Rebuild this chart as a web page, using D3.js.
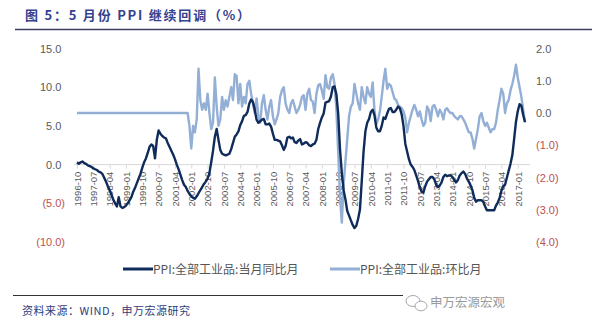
<!DOCTYPE html>
<html>
<head>
<meta charset="utf-8">
<script src="https://cdn.jsdelivr.net/npm/d3@7"></script>
<style>
  html, body { margin: 0; padding: 0; background: #fff; }
  svg { display: block; }
</style>
</head>
<body>
<svg id="chart" width="600" height="329"></svg>
<script>
// Category tick labels shown on the x axis (every 9 months)
const tickLabels = [
  "1996-10","1997-07","1998-04","1999-01","1999-10","2000-07","2001-04",
  "2002-01","2002-10","2003-07","2004-04","2005-01","2005-10","2006-07",
  "2007-04","2008-01","2008-10","2009-07","2010-04","2011-01","2011-10",
  "2012-07","2013-04","2014-01","2014-10","2015-07","2016-04","2017-01"
];

// PPI all industrial products, year-on-year (%), 1996-10 .. 2017-05
const yoy = [
  0.3, 0.1, 0.3,                                                        // 1996 Oct-Dec
  0.4, 0.2, 0.1, -0.1, -0.2, -0.3, -0.5, -0.6, -0.7, -0.9, -1.0, -1.2,  // 1997
  -1.7, -2.2, -2.8, -3.3, -3.9, -4.5, -5.0, -5.4, -4.2, -5.4, -5.6, -5.5, // 1998
  -5.3, -5.0, -4.6, -4.2, -3.5, -3.0, -2.4, -1.8, -1.2, -0.4, 0.3, 0.8,  // 1999
  1.5, 2.3, 2.6, 2.4, 0.8, 3.2, 4.4, 4.0, 3.7, 3.5, 3.4, 2.8,           // 2000
  2.3, 1.8, 1.3, 0.7, 0.0, -0.6, -1.3, -2.0, -2.6, -2.9, -3.4, -3.8,    // 2001
  -4.1, -4.3, -4.4, -4.1, -3.7, -3.3, -2.9, -2.5, -2.2, -1.8, -1.1, 0.3, // 2002
  1.8, 3.6, 4.6, 3.2, 1.9, 1.4, 1.3, 1.2, 1.3, 1.4, 2.0, 2.8,           // 2003
  3.6, 3.9, 4.3, 5.1, 5.6, 6.3, 6.4, 6.8, 7.9, 8.4, 8.1, 7.1,           // 2004
  5.8, 5.4, 5.6, 5.8, 5.9, 5.2, 5.2, 5.3, 4.9, 4.0, 3.2, 3.2,           // 2005
  3.1, 3.0, 2.5, 1.9, 2.4, 3.5, 3.6, 3.4, 3.5, 2.9, 2.8, 3.1,           // 2006
  3.3, 2.6, 2.7, 2.9, 2.8, 2.5, 2.4, 2.6, 2.7, 3.2, 4.6, 5.4,           // 2007
  6.1, 6.6, 8.0, 8.1, 8.2, 8.8, 10.0, 10.1, 9.1, 6.6, 2.0, -1.1,        // 2008
  -3.3, -4.5, -6.0, -6.6, -7.2, -7.8, -8.2, -7.9, -7.0, -5.8, -2.1, 1.7, // 2009
  4.3, 5.4, 5.9, 6.8, 7.1, 6.4, 4.8, 4.3, 4.3, 5.0, 6.1, 5.9,           // 2010
  6.6, 7.2, 7.3, 6.8, 6.8, 7.1, 7.5, 7.3, 6.5, 5.0, 2.7, 1.7,           // 2011
  0.7, 0.0, -0.3, -0.7, -1.4, -2.1, -2.9, -3.5, -3.6, -2.8, -2.2, -1.9, // 2012
  -1.6, -1.6, -1.9, -2.6, -2.9, -2.7, -2.3, -1.6, -1.3, -1.5, -1.4, -1.4, // 2013
  -1.6, -2.0, -2.3, -2.0, -1.4, -1.1, -0.9, -1.2, -1.8, -2.2, -2.7, -3.3, // 2014
  -4.3, -4.8, -4.6, -4.6, -4.6, -4.8, -5.4, -5.9, -5.9, -5.9, -5.9, -5.9, // 2015
  -5.3, -4.9, -4.3, -3.4, -2.8, -2.6, -1.7, -0.8, 0.1, 1.2, 3.3, 5.5,   // 2016
  6.9, 7.8, 7.6, 6.4, 5.5                                               // 2017 Jan-May
];

// PPI all industrial products, month-on-month (%), same months
const mom = [
  0, 0, 0,                                                              // 1996 Oct-Dec
  0, 0, 0, 0, 0, 0, 0, 0, 0, 0, 0, 0,                                   // 1997
  0, 0, 0, 0, 0, 0, 0, 0, 0, 0, 0, 0,                                   // 1998
  0, 0, 0, 0, 0, 0, 0, 0, 0, 0, 0, 0,                                   // 1999
  0, 0, 0, 0, 0, 0, 0, 0, 0, 0, 0, 0,                                   // 2000
  0, 0, 0, 0, 0, 0, 0, 0, 0, 0, 0, -0.4,                                // 2001
  -1.1, -0.4, -0.6, -0.2, 1.37, 0.4, 0.1, 0.3, 0.1, 0.6, 0.0, -0.5,     // 2002
  -0.3, 1.1, 0.2, -0.4, -0.2, 0.5, 0.1, 0.4, 0.2, 0.5, 0.8, 0.4,        // 2003
  1.2, 1.15, 0.3, 0.9, 0.2, 0.5, 0.3, 0.9, 1.0, 0.6, 0.3, 0.0,          // 2004
  0.45, -0.1, -0.3, 0.3, 0.55, 0.1, -0.2, 0.2, 0.4, -0.1, -0.35, -0.2,  // 2005
  0.0, 0.5, 0.7, 0.8, 0.3, 0.1, 0.0, 0.3, 0.4, 0.2, 0.0, 0.1,           // 2006
  0.25, 0.5, 0.55, 0.1, 0.6, 0.75, 0.4, 0.35, 0.0, 0.6, 0.86, 0.9,      // 2007
  0.7, 0.44, 1.17, 0.8, 0.75, 1.1, 1.2, 0.9, 0.1, -1.2, -2.6, -3.4,     // 2008
  -2.2, -1.5, -0.8, -0.1, 0.2, 0.3, 0.9, 0.6, 0.3, 0.1, 0.8, 0.5,       // 2009
  0.3, 0.8, 0.6, 0.5, 0.95, 0.1, -0.35, -0.2, 0.05, 0.5, 1.0, 1.37,     // 2010
  0.75, 0.9, 0.85, 0.65, 0.45, 0.4, 0.25, 0.2, 0.15, 0.05, -0.15, -0.6, // 2011
  -0.3, -0.1, 0.1, 0.25, 0.1, -0.1, 0.05, -0.2, -0.4, -0.3, 0.2, 0.1,   // 2012
  -0.25, 0.2, 0.25, 0.1, -0.1, 0.1, 0.0, -0.2, 0.1, 0.15, 0.05, 0.0,    // 2013
  0.0, -0.1, -0.15, -0.2, -0.1, -0.1, -0.2, -0.3, -0.45, -0.6, -0.6, -0.8, // 2014
  -1.1, -0.8, -0.5, -0.1, 0.0, -0.25, -0.4, -0.3, -0.45, -0.6, -0.5, -0.5, // 2015
  -0.3, 0.1, 0.4, 0.75, 0.6, 0.0, 0.3, 0.4, 0.7, 0.9, 1.15, 1.5,        // 2016
  1.1, 0.8, 0.5, 0.1, -0.3                                              // 2017 Jan-May
];

const leftTicks = [15, 10, 5, 0, -5, -10];
const rightTicks = [2, 1, 0, -1, -2, -3, -4];

const titleText = "图 5：5 月份 PPI 继续回调（%）";
const seriesNames = ["PPI:全部工业品:当月同比月", "PPI:全部工业品:环比月"];
const sourceText = "资料来源：WIND，申万宏源研究";
const brandText = "申万宏源宏观";

const colYoy = "#0f2b5a";
const colMom = "#93afd6";
const colNeg = "#c0504d";
const colPos = "#595959";

const months = d3.timeMonth.range(new Date(1996, 9, 1), new Date(2017, 5, 1));
const cats = months.map(d3.timeFormat("%Y-%m"));

const svg = d3.select("#chart");
const numFont = "'Liberation Sans', Arial, sans-serif";
const cjkFont = "'Noto Sans CJK SC', 'Noto Sans', sans-serif";

const x = d3.scalePoint().domain(cats).range([77, 525]);
const yL = d3.scaleLinear().domain([-10, 15]).range([242, 48.5]);
const yR = d3.scaleLinear().domain([-4, 2]).range([242, 48.5]);

const fmt = v => v < 0 ? "(" + Math.abs(v).toFixed(1) + ")" : v.toFixed(1);

// Title and rule beneath it
svg.append("text")
  .attr("x", 25).attr("y", 20)
  .attr("font-family", cjkFont).attr("font-size", 13).attr("font-weight", "bold")
  .attr("fill", "#34418f")
  .attr("textLength", 225).attr("lengthAdjust", "spacing")
  .text(titleText);
svg.append("line")
  .attr("x1", 15).attr("x2", 592).attr("y1", 29.5).attr("y2", 29.5)
  .attr("stroke", "#3d3d66").attr("stroke-width", 1.5);

// Left axis
const gL = svg.append("g").attr("transform", "translate(65,0)")
  .call(d3.axisLeft(yL).tickValues(leftTicks).tickFormat(fmt).tickSize(0).tickPadding(0));
gL.select(".domain").remove();
gL.selectAll("text")
  .attr("font-family", numFont).attr("font-size", 11)
  .attr("fill", d => d < 0 ? colNeg : colPos)
  .attr("dx", d => d < 0 ? 0 : -3.6);

// Right axis
const gR = svg.append("g").attr("transform", "translate(536,0)")
  .call(d3.axisRight(yR).tickValues(rightTicks).tickFormat(fmt).tickSize(0).tickPadding(0));
gR.select(".domain").remove();
gR.selectAll("text")
  .attr("font-family", numFont).attr("font-size", 11)
  .attr("fill", d => d < 0 ? colNeg : colPos);

// Category axis sitting on the left-axis zero line
const y0 = yL(0);
const gX = svg.append("g").attr("transform", `translate(0,${y0})`)
  .call(d3.axisBottom(x).tickValues(tickLabels).tickSize(4).tickSizeOuter(0));
gX.select(".domain").remove();
gX.selectAll(".tick line").attr("stroke", "#d9d9d9");
gX.selectAll("text")
  .attr("font-family", numFont).attr("font-size", 9.5).attr("fill", colPos)
  .attr("transform", "rotate(-90)")
  .attr("text-anchor", "end")
  .attr("x", -7).attr("y", 0).attr("dy", "0.35em");
svg.append("line")
  .attr("x1", 74).attr("x2", 530).attr("y1", y0).attr("y2", y0)
  .attr("stroke", "#d9d9d9").attr("stroke-width", 1);

// Series lines
const lineMom = d3.line().x((d, i) => x(cats[i])).y(d => yR(d));
const lineYoy = d3.line().x((d, i) => x(cats[i])).y(d => yL(d));

svg.append("path").datum(mom)
  .attr("d", lineMom).attr("fill", "none")
  .attr("stroke", colMom).attr("stroke-width", 2.4).attr("stroke-linejoin", "round");
svg.append("path").datum(yoy)
  .attr("d", lineYoy).attr("fill", "none")
  .attr("stroke", colYoy).attr("stroke-width", 2.4).attr("stroke-linejoin", "round");

// Legend
const legend = [
  { name: seriesNames[0], color: colYoy, x: 123 },
  { name: seriesNames[1], color: colMom, x: 330 }
];
const lg = svg.append("g");
legend.forEach(d => {
  lg.append("line").attr("x1", d.x).attr("x2", d.x + 30).attr("y1", 269).attr("y2", 269)
    .attr("stroke", d.color).attr("stroke-width", 3);
  lg.append("text").attr("x", d.x + 30).attr("y", 273.5)
    .attr("font-family", cjkFont).attr("font-size", 12).attr("fill", "#555")
    .text(d.name);
});

// Source note and footer rule
svg.append("line")
  .attr("x1", 13).attr("x2", 403).attr("y1", 295.5).attr("y2", 295.5)
  .attr("stroke", "#333").attr("stroke-width", 1);
svg.append("text")
  .attr("x", 22).attr("y", 315)
  .attr("font-family", cjkFont).attr("font-size", 11).attr("fill", "#2f3d7c")
  .attr("textLength", 168).attr("lengthAdjust", "spacing")
  .text(sourceText);

// Brand mark: chat bubble icon and name
const icon = svg.append("g").attr("fill", "none").attr("stroke", "#a8a8a8").attr("stroke-width", 1);
icon.append("ellipse").attr("cx", 413).attr("cy", 301).attr("rx", 7).attr("ry", 5.5);
icon.append("ellipse").attr("cx", 421).attr("cy", 306).attr("rx", 6).attr("ry", 4.8).attr("fill", "#fff");
svg.append("text")
  .attr("x", 430).attr("y", 307)
  .attr("font-family", cjkFont).attr("font-size", 12.5).attr("fill", "#9a9a9a")
  .attr("textLength", 75).attr("lengthAdjust", "spacingAndGlyphs")
  .text(brandText);
</script>
</body>
</html>
